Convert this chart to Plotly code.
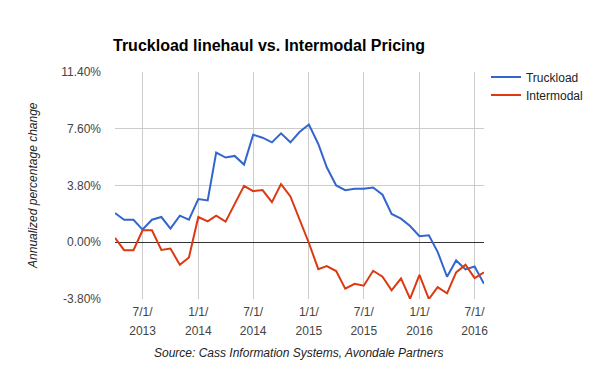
import plotly.graph_objects as go
import pandas as pd

months = pd.date_range("2013-04-01", periods=41, freq="MS")

truckload = [1.95, 1.51, 1.51, 0.85, 1.51, 1.69, 0.91, 1.78, 1.51,
             2.89, 2.80, 6.00, 5.67, 5.78, 5.20, 7.20, 7.00, 6.69, 7.29, 6.69, 7.38,
             7.88, 6.58, 5.02, 3.80, 3.49, 3.58, 3.58, 3.67, 3.18, 1.89, 1.58, 1.09,
             0.40, 0.47, -0.64, -2.31, -1.22, -1.82, -1.62, -2.78]

intermodal = [0.29, -0.53, -0.53, 0.80, 0.80, -0.51, -0.42, -1.51, -1.02,
              1.69, 1.40, 1.78, 1.38, 2.58, 3.78, 3.42, 3.49, 2.69, 3.89, 3.07, 1.55,
              -0.05, -1.80, -1.60, -1.93, -3.11, -2.78, -2.91, -1.91, -2.31, -3.22, -2.42, -3.78,
              -2.18, -3.80, -3.00, -3.42, -2.02, -1.51, -2.40, -2.02]

y_ticks = [-3.8, 0.0, 3.8, 7.6, 11.4]
y_ticktext = ["-3.80%", "0.00%", "3.80%", "7.60%", "11.40%"]

x_ticks = ["2013-07-01", "2014-01-01", "2014-07-01", "2015-01-01",
           "2015-07-01", "2016-01-01", "2016-07-01"]
x_tick_dates = ["7/1/", "1/1/", "7/1/", "1/1/", "7/1/", "1/1/", "7/1/"]
x_tick_years = ["2013", "2014", "2014", "2015", "2015", "2016", "2016"]

FONT = "Arial, Liberation Sans, sans-serif"

fig = go.Figure()
fig.add_trace(go.Scatter(x=months, y=truckload, mode="lines", name="Truckload",
                         line=dict(color="#3366CC", width=2), legend="legend"))
fig.add_trace(go.Scatter(x=months, y=intermodal, mode="lines", name="Intermodal",
                         line=dict(color="#DC3912", width=2), legend="legend2"))
# invisible helper trace so the second (year) tick row is drawn
fig.add_trace(go.Scatter(x=months, y=truckload, mode="lines", xaxis="x2", yaxis="y",
                         line=dict(color="rgba(0,0,0,0)", width=0),
                         showlegend=False, hoverinfo="skip"))

fig.update_layout(
    width=600, height=371,
    margin=dict(l=115, r=114, t=72, b=72),
    paper_bgcolor="white", plot_bgcolor="white",
    font=dict(family=FONT, size=12, color="#444444"),
    title=dict(text="<b>Truckload linehaul vs. Intermodal Pricing</b>",
               x=113 / 600, xanchor="left", xref="container",
               y=1 - 45 / 371, yanchor="middle", yref="container",
               font=dict(family=FONT, size=16, color="#000000")),
    showlegend=True,
    legend=dict(x=1.0 + 2 / 371, xanchor="left", y=1 + 9.5 / 227, yanchor="top",
                font=dict(family=FONT, size=12, color="#222222"),
                bgcolor="rgba(0,0,0,0)"),
    legend2=dict(x=1.0 + 2 / 371, xanchor="left", y=1 - 8.5 / 227, yanchor="top",
                 font=dict(family=FONT, size=12, color="#222222"),
                 bgcolor="rgba(0,0,0,0)"),
    xaxis=dict(range=[months[0], months[-1]], tickvals=x_ticks, ticktext=x_tick_dates,
               showgrid=True, gridcolor="#cccccc", gridwidth=1,
               showline=False, zeroline=False, ticks="", ticklabelstandoff=4,
               tickfont=dict(family=FONT, size=12, color="#444444")),
    xaxis2=dict(overlaying="x", matches="x", side="bottom", anchor="y",
                tickvals=x_ticks, ticktext=x_tick_years,
                showgrid=False, showline=False, zeroline=False, ticks="",
                ticklabelstandoff=23,
                tickfont=dict(family=FONT, size=12, color="#444444")),
    yaxis=dict(range=[-3.8, 11.4], tickvals=y_ticks, ticktext=y_ticktext,
               showgrid=True, gridcolor="#cccccc", gridwidth=1,
               zeroline=True, zerolinecolor="#333333", zerolinewidth=1,
               showline=False, ticks="", ticklabelstandoff=13,
               tickfont=dict(family=FONT, size=12, color="#444444")),
    annotations=[
        dict(text="<i>Annualized percentage change</i>", textangle=-90,
             xref="paper", yref="paper", x=(32 - 115) / 371, y=0.5,
             xanchor="center", yanchor="middle", showarrow=False,
             font=dict(family=FONT, size=12, color="#222222")),
        dict(text="<i>Source: Cass Information Systems, Avondale Partners</i>",
             xref="paper", yref="paper", x=(299 - 115) / 371, y=-(353 - 299) / 227,
             xanchor="center", yanchor="middle", showarrow=False,
             font=dict(family=FONT, size=12, color="#222222")),
    ],
)

fig.write_html("out.html", config={"displayModeBar": False},
               post_script="document.body.style.margin='0';document.body.style.padding='0';")
